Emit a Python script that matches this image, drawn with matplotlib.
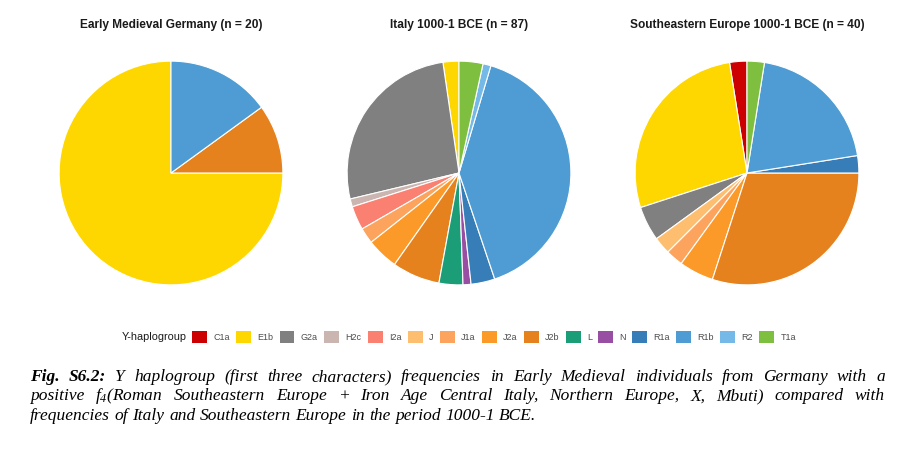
import matplotlib
matplotlib.use("Agg")
import matplotlib.pyplot as plt
from matplotlib.patches import Patch

# Y haplogroup counts per region
haplogroups = ['C1a', 'E1b', 'G2a', 'H2c', 'I2a', 'J', 'J1a', 'J2a', 'J2b',
               'L', 'N', 'R1a', 'R1b', 'R2', 'T1a']
hap_colors = ['#CC0000', '#FFD700', '#808080', '#CBB5B0', '#FA8072', '#FDBF6F',
              '#FCA35D', '#FB9A29', '#E6821E', '#1B9E77', '#984EA3', '#377EB8',
              '#4E9CD3', '#74B9E8', '#7FBF3F']
germany = [0, 15, 0, 0, 0, 0, 0, 0, 2, 0, 0, 0, 3, 0, 0]
italy = [0, 2, 23, 1, 3, 0, 2, 4, 6, 3, 1, 3, 35, 1, 3]
se_europe = [1, 11, 2, 0, 0, 1, 1, 2, 12, 0, 0, 1, 8, 0, 1]

titles = ['Early Medieval Germany (n = 20)',
          'Italy 1000-1 BCE (n = 87)',
          'Southeastern Europe 1000-1 BCE (n = 40)']

caption_lines = [
    [('Fig.', 'bold'), ('S6.2:', 'bold'), 'Y', 'haplogroup', '(first', 'three',
     'characters)', 'frequencies', 'in', 'Early', 'Medieval', 'individuals',
     'from', 'Germany', 'with', 'a'],
    ['positive', r'$f_4$(Roman', 'Southeastern', 'Europe', '+', 'Iron', 'Age',
     'Central', 'Italy,', 'Northern', 'Europe,', 'X,', 'Mbuti)', 'compared', 'with'],
    ['frequencies', 'of', 'Italy', 'and', 'Southeastern', 'Europe', 'in', 'the',
     'period', '1000-1', 'BCE.'],
]

plt.rcParams['font.family'] = ['Liberation Sans', 'DejaVu Sans']
plt.rcParams['mathtext.fontset'] = 'custom'
plt.rcParams['mathtext.it'] = 'Liberation Serif:italic'
plt.rcParams['mathtext.rm'] = 'Liberation Serif:italic'

W, H = 915, 450
fig = plt.figure(figsize=(W / 100, H / 100), dpi=100)

centers_x = [171, 459, 747]
cy, r = 173, 113
for data, title, cx in zip([germany, italy, se_europe], titles, centers_x):
    ax = fig.add_axes([(cx - r) / W, (H - cy - r) / H, 2 * r / W, 2 * r / H])
    vals = [v for v in data if v > 0]
    cols = [c for v, c in zip(data, hap_colors) if v > 0]
    ax.pie(vals, colors=cols, startangle=90, counterclock=True,
           wedgeprops=dict(edgecolor='white', linewidth=0.8))
    ax.set_xlim(-1.01, 1.01)
    ax.set_ylim(-1.01, 1.01)
    fig.text(cx / W, 1 - 25 / H, title, ha='center', va='center',
             fontsize=8.6, fontweight='bold', color='#1a1a1a')

# legend
handles = [Patch(facecolor=c, edgecolor='none') for c in hap_colors]
fig.legend(handles, haplogroups, loc='center left', bbox_to_anchor=(192 / W, 1 - 337 / H),
           ncol=len(haplogroups), frameon=False, fontsize=6.5, handlelength=1.65,
           handleheight=1.55, handletextpad=0.7, columnspacing=0.7,
           labelcolor='#4d4d4d', borderpad=0, borderaxespad=0)
fig.text(122 / W, 1 - 337 / H, 'Y-haplogroup', ha='left', va='center',
         fontsize=7.8, color='#1a1a1a')

# justified caption
renderer = fig.canvas.get_renderer()
x0, x1 = 30, 885
for i, words in enumerate(caption_lines):
    y = 1 - (381 + i * 19.5) / H
    texts = []
    for w in words:
        weight = 'normal'
        if isinstance(w, tuple):
            w, weight = w
        t = fig.text(0, y, w, fontsize=12.5, family='Liberation Serif', style='italic',
                     fontweight=weight, ha='left', va='baseline', color='black')
        texts.append(t)
    widths = [t.get_window_extent(renderer).width for t in texts]
    if i < len(caption_lines) - 1:
        gap = (x1 - x0 - sum(widths)) / (len(texts) - 1)
    else:
        gap = 4.5
    x = x0
    for t, wdt in zip(texts, widths):
        t.set_x(x / W)
        x += wdt + gap

fig.savefig('out.png', dpi=100)
